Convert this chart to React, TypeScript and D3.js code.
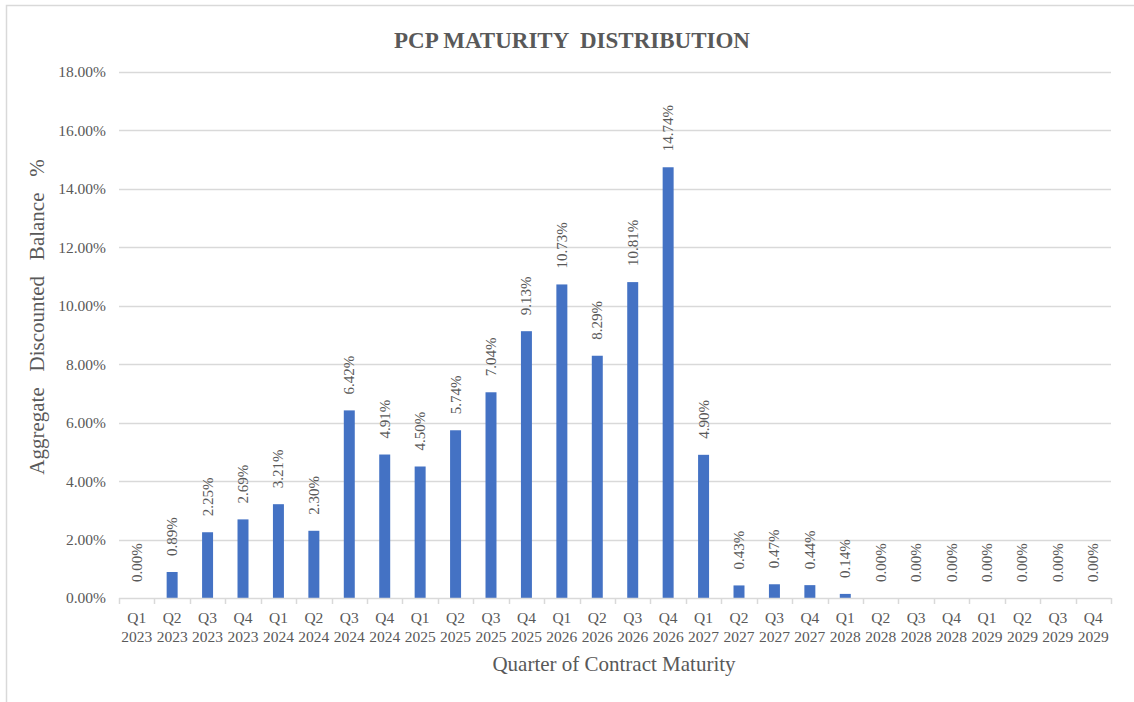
import React from "react";
import * as d3 from "d3";

const quarters = ["Q1","Q2","Q3","Q4","Q1","Q2","Q3","Q4","Q1","Q2","Q3","Q4","Q1","Q2","Q3","Q4","Q1","Q2","Q3","Q4","Q1","Q2","Q3","Q4","Q1","Q2","Q3","Q4"];
const years = ["2023","2023","2023","2023","2024","2024","2024","2024","2025","2025","2025","2025","2026","2026","2026","2026","2027","2027","2027","2027","2028","2028","2028","2028","2029","2029","2029","2029"];
const values = [0.00,0.89,2.25,2.69,3.21,2.30,6.42,4.91,4.50,5.74,7.04,9.13,10.73,8.29,10.81,14.74,4.90,0.43,0.47,0.44,0.14,0.00,0.00,0.00,0.00,0.00,0.00,0.00];
const yTicks = [0,2,4,6,8,10,12,14,16,18];

const W = 1134, H = 702;
const left = 119, right = 1111, top = 72, bottom = 598;
const textColor = "#595959";
const font = "'Liberation Serif', 'Times New Roman', serif";

export default function App() {
  const cats = values.map((_, i) => String(i));
  const x = d3.scaleBand().domain(cats).range([left, right]).paddingInner(0.69).paddingOuter(0.345);
  const xb = d3.scaleBand().domain(cats).range([left, right]);
  const y = d3.scaleLinear().domain([0, 18]).range([bottom, top]);
  return (
    <div style={{ position: "fixed", left: 0, top: 0 }}>
      <svg width={W} height={H} style={{ display: "block", background: "#fff" }}>
        <rect x={6.5} y={5.5} width={W + 20} height={H + 20} fill="#fff" stroke="#d9d9d9" strokeWidth={1.5} />
        <text x={572} y={48} textAnchor="middle" fontFamily={font} fontWeight="bold" fontSize={23} fill={textColor} style={{ whiteSpace: "pre" }}>PCP MATURITY  DISTRIBUTION</text>
        {yTicks.map(t => (
          <g key={t}>
            {t > 0 && <line x1={left} x2={right} y1={Math.round(y(t)) + 0.5} y2={Math.round(y(t)) + 0.5} stroke="#d9d9d9" strokeWidth={1.5} />}
            <text x={106} y={y(t)} dy="0.35em" textAnchor="end" fontFamily={font} fontSize={15.5} fill={textColor}>{t.toFixed(2) + "%"}</text>
          </g>
        ))}
        {values.map((v, i) => {
          const bx = x(String(i))!;
          const cx = bx + x.bandwidth() / 2;
          return (
            <g key={i}>
              <rect x={bx} y={y(v)} width={x.bandwidth()} height={bottom - y(v)} fill="#4472C4" />
              <text transform={`translate(${cx + 5},${y(v) - 16}) rotate(-90)`} textAnchor="start" fontFamily={font} fontSize={15} fill={textColor}>{v.toFixed(2) + "%"}</text>
              <text x={xb(String(i))! + xb.bandwidth() / 2} y={623} textAnchor="middle" fontFamily={font} fontSize={15.5} fill={textColor}>{quarters[i]}</text>
              <text x={xb(String(i))! + xb.bandwidth() / 2} y={642} textAnchor="middle" fontFamily={font} fontSize={15.5} fill={textColor}>{years[i]}</text>
            </g>
          );
        })}
        <line x1={left} x2={right} y1={bottom + 0.5} y2={bottom + 0.5} stroke="#d9d9d9" strokeWidth={1.5} />
        {d3.range(values.length + 1).map(i => {
          const tx = Math.round(left + i * xb.bandwidth()) + 0.5;
          return <line key={i} x1={tx} x2={tx} y1={bottom} y2={bottom + 6} stroke="#d9d9d9" strokeWidth={1.5} />;
        })}
        <text x={614} y={671} textAnchor="middle" fontFamily={font} fontSize={21} fill={textColor}>Quarter of Contract Maturity</text>
        <text transform={`translate(44,317) rotate(-90)`} textAnchor="middle" fontFamily={font} fontSize={21} fill={textColor} style={{ whiteSpace: "pre" }}>Aggregate   Discounted   Balance   %</text>
      </svg>
    </div>
  );
}
